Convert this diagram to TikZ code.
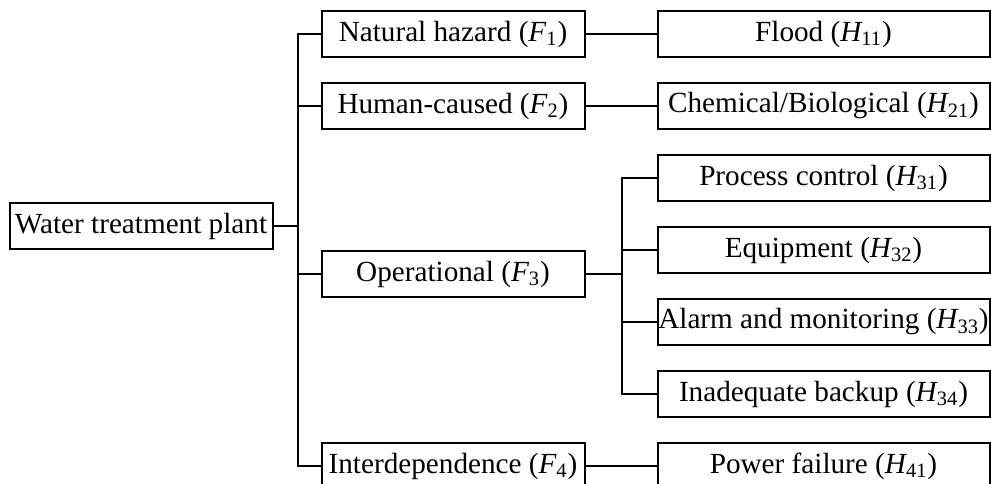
\documentclass[tikz,border=0pt]{standalone}
\usepackage{fontspec}
\setmainfont{Liberation Serif}
\usepackage{tikz}
\usetikzlibrary{positioning}
\newcommand{\Fsub}[1]{{\itshape F}\textsubscript{#1}}
\newcommand{\Hsub}[1]{{\itshape H}\textsubscript{#1}}

\begin{document}
\begin{tikzpicture}[x=0.5pt, y=-0.5pt, node distance=12pt and 35.5pt, every node/.style={font=\fontsize{14.6}{17}\selectfont}]
\tikzstyle{box}=[draw, line width=1pt, inner xsep=0pt, inner ysep=1pt, minimum height=23pt, align=center]
\tikzstyle{fbox}=[box, minimum width=131.5pt]
\tikzstyle{hbox}=[box, minimum width=166pt]
\tikzstyle{link}=[line width=1pt]
\useasboundingbox (0,0) rectangle (991,483);
\node[hbox] (h11) at (823.5,34) {Flood (\Hsub{11})};
\node[hbox, below=of h11] (h21) {Chemical/Biological (\Hsub{21})};
\node[hbox, below=of h21] (h31) {Process control (\Hsub{31})};
\node[hbox, below=of h31] (h32) {Equipment (\Hsub{32})};
\node[hbox, below=of h32] (h33) {Alarm and monitoring (\Hsub{33})};
\node[hbox, below=of h33] (h34) {Inadequate backup (\Hsub{34})};
\node[hbox, below=of h34] (h41) {Power failure (\Hsub{41})};
\node[fbox, left=of h11] (f1) {Natural hazard (\Fsub{1})};
\node[fbox, left=of h21] (f2) {Human-caused (\Fsub{2})};
\node[fbox] (f3) at (f1 |- h32.south) {Operational (\Fsub{3})};
\node[fbox, left=of h41] (f4) {Interdependence (\Fsub{4})};
\node[fbox, anchor=east] (wtp) at ([xshift=-23.5pt]f1.west |- h32.north) {Water treatment plant};
\draw[link] (wtp.east) -- ++(24,0) coordinate (j0);
\foreach \n in {f1,f2,f3,f4} \draw[link] (j0) |- (\n);
\draw[link] (f1) -- (h11);
\draw[link] (f2) -- (h21);
\draw[link] (f4) -- (h41);
\draw[link] (f3.east) -- ++(36,0) coordinate (j3);
\foreach \n in {h31,h32,h33,h34} \draw[link] (j3) |- (\n);
\end{tikzpicture}
\end{document}
